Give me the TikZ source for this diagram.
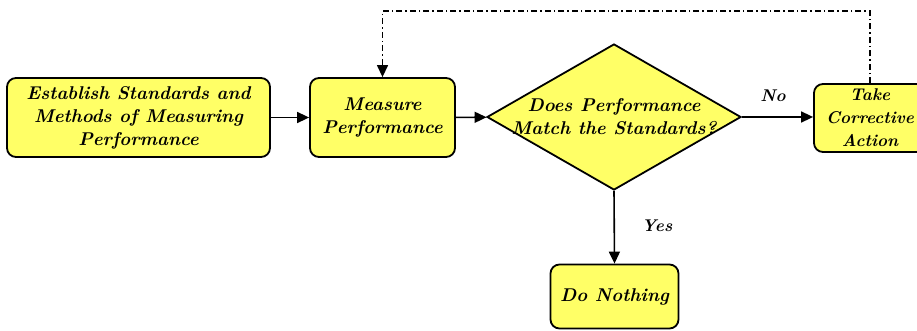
\documentclass[tikz,border=0pt]{standalone}
\usetikzlibrary{shapes.geometric,arrows.meta}
\definecolor{boxyellow}{RGB}{255,255,102}
\begin{document}
\begin{tikzpicture}[x=1pt,y=-1pt,
  lbl/.style={font=\bfseries\itshape\fontsize{18.5}{23}\selectfont, align=center},
  stepbox/.style={draw=black, line width=1.8pt, fill=boxyellow, rounded corners=9pt, lbl, inner sep=0pt},
  decision/.style={diamond, draw=black, line width=1.8pt, fill=boxyellow, inner sep=0pt},
  flow/.style={line width=1.6pt, -{Triangle[length=12pt,width=11pt]}},
  feedback/.style={line width=1.3pt, dash pattern=on 6pt off 3pt on 1.5pt off 3pt, -{Triangle[length=12pt,width=11pt]}},
  edgelbl/.style={font=\bfseries\itshape\fontsize{17}{20}\selectfont}
]
\useasboundingbox (0,0) rectangle (917,331);

% process steps
\node[stepbox, minimum width=263pt, minimum height=79pt] (est) at (138.5,117.5)
  {Establish Standards and\\Methods of Measuring\\Performance};
\node[stepbox, minimum width=145pt, minimum height=79pt] (meas) at (382.5,117.5)
  {Measure\\Performance};
\node[decision, minimum width=254pt, minimum height=146pt] (dec) at (614,117) {};
\node[lbl] (dectxt) at (dec.center) {Does Performance\\Match the Standards?};
\node[stepbox, minimum width=112pt, minimum height=68pt,
      font=\bfseries\itshape\fontsize{17}{23}\selectfont] (act) at (870,118)
  {Take\\Corrective\\Action};
\node[stepbox, minimum width=128pt, minimum height=64pt] (none) at (614.5,296.5)
  {Do Nothing};

% main flow
\draw[flow] (est) -- (meas);
\draw[flow] (meas) -- (dec);
\draw[flow] (dec.east) -- (act.west |- dec.east);
\draw[flow] (dec.south) -- (none.north);

% branch labels
\node[edgelbl] (nolbl) at (773,96) {No};
\node[edgelbl] (yeslbl) at (657,226) {Yes};

% corrective feedback loop
\coordinate (fbR) at (870,11);
\coordinate (fbL) at (382.5,11);
\draw[feedback] (act.north -| fbR) -- (fbR) -- (fbL) -- (meas.north);
\end{tikzpicture}
\end{document}
